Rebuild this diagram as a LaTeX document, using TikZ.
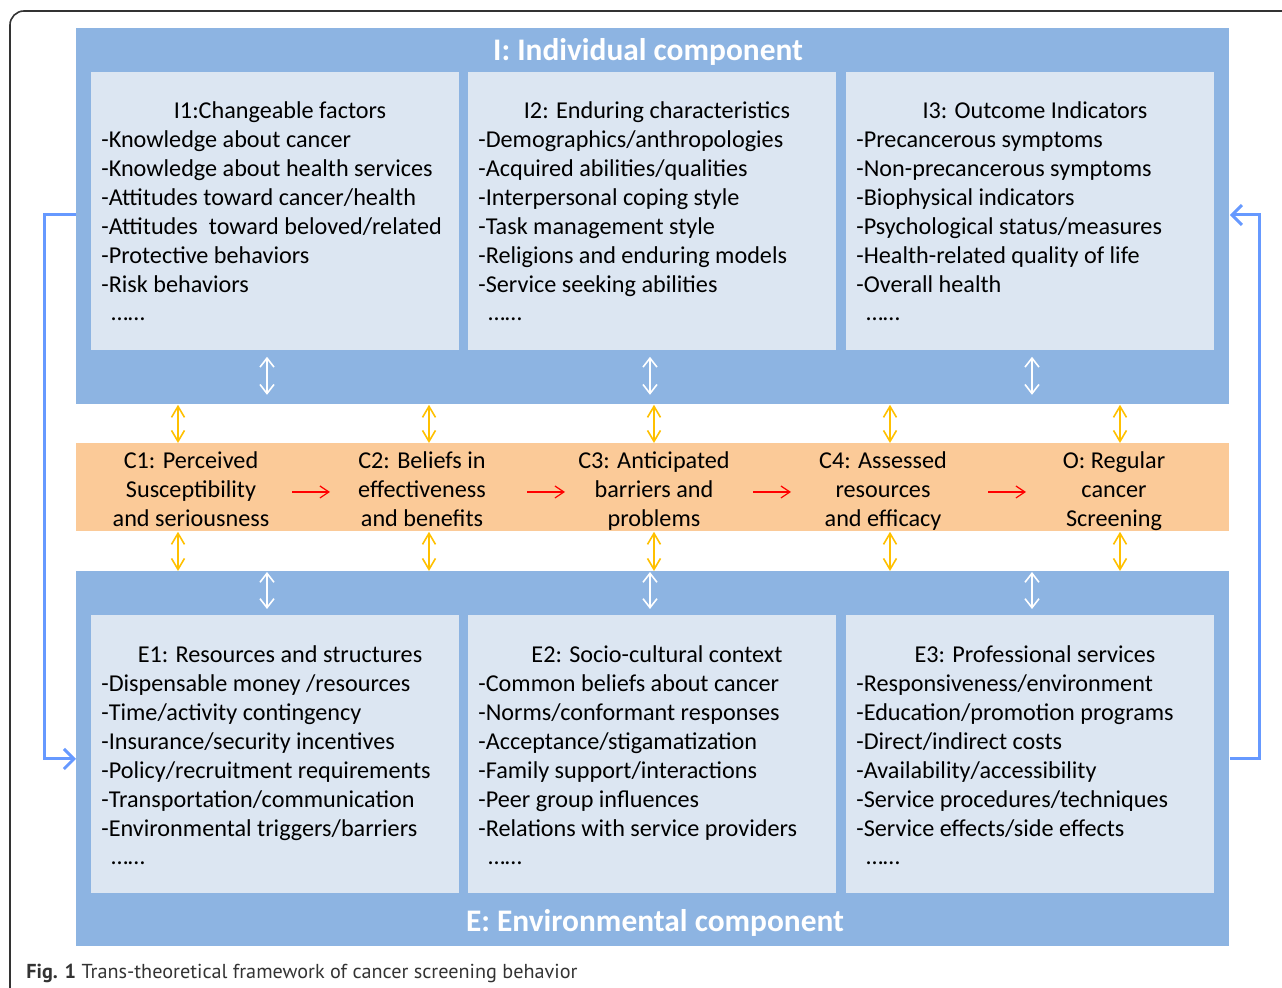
\documentclass[tikz,border=0pt]{standalone}
\usepackage{fontspec}
\setmainfont{Carlito}
\newfontfamily\capfont{PT Sans}
\usetikzlibrary{arrows.meta}

\definecolor{compblue}{RGB}{141,180,226}
\definecolor{panelblue}{RGB}{220,230,242}
\definecolor{bandorange}{RGB}{251,202,152}
\definecolor{backblue}{RGB}{102,153,255}
\definecolor{linkyellow}{RGB}{255,192,0}

\begin{document}
\begin{tikzpicture}[x=0.5pt,y=-0.5pt,
	comp/.style={fill=compblue, minimum width=576.5pt, anchor=north west, inner sep=0pt},
	panel/.style={fill=panelblue, minimum width=184pt, minimum height=139pt, anchor=north west, inner sep=0pt},
	band/.style={fill=bandorange, minimum width=576.5pt, minimum height=44pt, anchor=north west, inner sep=0pt},
	compname/.style={text=white, font=\bfseries\fontsize{15.7}{18}\selectfont},
	head/.style={anchor=base, inner sep=0pt, font=\fontsize{12.1}{14.5}\selectfont},
	item/.style={anchor=base west, inner sep=0pt, font=\fontsize{12.1}{14.5}\selectfont},
	stage/.style={align=center, inner sep=0pt, font=\fontsize{12.1}{14.5}\selectfont},
	wlink/.style={white, line width=0.8pt, {Straight Barb[length=4.5pt,width=7pt]}-{Straight Barb[length=4.5pt,width=7pt]}},
	ylink/.style={linkyellow, line width=0.8pt, {Straight Barb[length=5.5pt,width=6.5pt]}-{Straight Barb[length=5.5pt,width=6.5pt]}},
	flow/.style={red, line width=0.6pt, -{Straight Barb[length=4.5pt,width=6pt]}},
	feedback/.style={backblue, line width=1.5pt, -{Straight Barb[length=5pt,width=10pt]}}]
	\useasboundingbox (0,0) rectangle (1282,988);
	\begin{scope}
		\clip (0,0) rectangle (1282,988);
		\draw[black!80, line width=0.8pt, rounded corners=7pt] (10,11) rectangle (1320,1020);
	\end{scope}

	% Komponenten
	\node[comp, minimum height=188pt] (Ibox) at (76,28) {};
	\node[comp, minimum height=187.5pt] (Ebox) at (76,571) {};
	\node[band] (band) at (76,443) {};
	\node[compname] (Iname) at (648,52) {I: Individual component};
	\node[compname] (Ename) at (655,923) {E: Environmental component};

	% Felder
	\node[panel] (I1) at (91,72) {};
	\node[panel] (I2) at (468,72) {};
	\node[panel] (I3) at (846,72) {};
	\node[panel] (E1) at (91,615) {};
	\node[panel] (E2) at (468,615) {};
	\node[panel] (E3) at (846,615) {};

	% I1
	\node[head] (I1head) at (280,119) {I1:Changeable factors};
	\foreach \t [count=\i] in {-Knowledge about cancer,-Knowledge about health services,-Attitudes toward cancer/health,-Attitudes\ \ toward beloved/related,-Protective behaviors,-Risk behaviors}
	\node[item] (I1item\i) at (101,{119+29*\i}) {\t};
	\node[item] (I1dots) at (111,321) {……};
	% I2
	\node[head] (I2head) at (657,119) {I2: Enduring characteristics};
	\foreach \t [count=\i] in {-Demographics/anthropologies,-Acquired abilities/qualities,-Interpersonal coping style,-Task management style,-Religions and enduring models,-Service seeking abilities}
	\node[item] (I2item\i) at (478,{119+29*\i}) {\t};
	\node[item] (I2dots) at (488,321) {……};
	% I3
	\node[head] (I3head) at (1035,119) {I3: Outcome Indicators};
	\foreach \t [count=\i] in {-Precancerous symptoms,-Non-precancerous symptoms,-Biophysical indicators,-Psychological status/measures,-Health-related quality of life,-Overall health}
	\node[item] (I3item\i) at (856,{119+29*\i}) {\t};
	\node[item] (I3dots) at (866,321) {……};

	% E1
	\node[head] (E1head) at (280,663) {E1: Resources and structures};
	\foreach \t [count=\i] in {-Dispensable money /resources,-Time/activity contingency,-Insurance/security incentives,-Policy/recruitment requirements,-Transportation/communication,-Environmental triggers/barriers}
	\node[item] (E1item\i) at (101,{663+29*\i}) {\t};
	\node[item] (E1dots) at (111,865) {……};
	% E2
	\node[head] (E2head) at (657,663) {E2: Socio-cultural context};
	\foreach \t [count=\i] in {-Common beliefs about cancer,-Norms/conformant responses,-Acceptance/stigamatization,-Family support/interactions,-Peer group influences,-Relations with service providers}
	\node[item] (E2item\i) at (478,{663+29*\i}) {\t};
	\node[item] (E2dots) at (488,865) {……};
	% E3
	\node[head] (E3head) at (1035,663) {E3: Professional services};
	\foreach \t [count=\i] in {-Responsiveness/environment,-Education/promotion programs,-Direct/indirect costs,-Availability/accessibility,-Service procedures/techniques,-Service effects/side effects}
	\node[item] (E3item\i) at (856,{663+29*\i}) {\t};
	\node[item] (E3dots) at (866,865) {……};

	% Stufen
	\node[stage] (c1) at (191,492) {\strut C1: Perceived\\Susceptibility\\and seriousness\strut};
	\node[stage] (c2) at (422,492) {\strut C2: Beliefs in\\effectiveness\\and benefits\strut};
	\node[stage] (c3) at (654,492) {\strut C3: Anticipated\\barriers and\\problems\strut};
	\node[stage] (c4) at (883,492) {\strut C4: Assessed\\resources\\and efficacy\strut};
	\node[stage] (o) at (1114,492) {\strut O: Regular\\cancer\\Screening\strut};
	\foreach \x in {292,527,753,988}
	\draw[flow] (\x,492) -- ++(38,0);

	% Wechselwirkungen
	\foreach \p/\x in {I1/267,I2/650,I3/1032}
	\draw[wlink, shorten <=3pt, shorten >=5pt] (\x,0 |- \p.south) -- (\x,0 |- Ibox.south);
	\foreach \p/\x in {E1/267,E2/650,E3/1032}
	\draw[wlink, shorten <=0.5pt, shorten >=3pt] (\x,0 |- Ebox.north) -- (\x,0 |- \p.north);
	\foreach \x in {178,429,654,890,1120}{
		\draw[ylink] (\x,0 |- Ibox.south) -- (\x,0 |- band.north);
		\draw[ylink] (\x,0 |- band.south) -- (\x,0 |- Ebox.north);
	}

	% Rueckkopplung
	\draw[feedback] (Ibox.west |- 0,215) -- ++(-32,0) |- (Ebox.west |- 0,759);
	\draw[feedback] (Ebox.east |- 0,759) -- ++(30,0) |- (Ibox.east |- 0,215);

	% Bildunterschrift
	\node[anchor=base west, inner sep=0pt, text=black!80, font=\capfont\fontsize{10.1}{12}\selectfont] (caption) at (26,979) {\textbf{Fig. 1} Trans-theoretical framework of cancer screening behavior};
\end{tikzpicture}
\end{document}
